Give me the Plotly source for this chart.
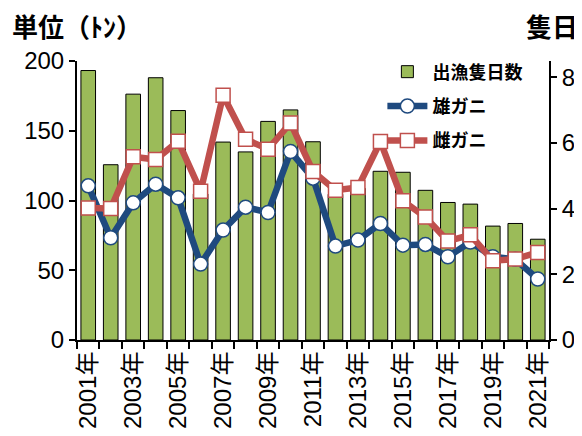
import plotly.graph_objects as go

years = list(range(2001, 2022))
year_labels = [f"{y}年" for y in years]

# 出漁隻日数 (right axis)
days = [8.21, 5.34, 7.49, 7.99, 6.99, 4.45, 6.03, 5.73, 6.66, 7.01, 6.04,
        4.44, 4.62, 5.14, 5.11, 4.56, 4.19, 4.14, 3.47, 3.55, 3.07]
# 雄ガニ (left axis, トン)
male = [110.5, 73.3, 98.3, 111.7, 101.9, 54.4, 78.8, 95.2, 91.4, 135.1, 116.0,
        67.3, 71.6, 83.5, 68.0, 68.5, 59.7, 70.2, 59.7, 57.8, 43.7]
# 雌ガニ (left axis, トン)
female = [94.7, 94.3, 131.3, 129.4, 142.5, 106.7, 175.4, 143.9, 136.8, 155.6, 120.8,
          107.4, 109.3, 142.3, 99.8, 88.1, 70.9, 75.4, 56.8, 58.0, 62.8]

label_years = years[::2]
label_text = [f"{y}年" for y in label_years]
boundaries = [y - 0.5 for y in years] + [years[-1] + 0.5]

TICK_FONT = dict(family="Liberation Sans, Noto Sans CJK JP", size=24, color="black")

fig = go.Figure()
fig.add_trace(go.Bar(
    x=years, y=days, name="出漁隻日数", yaxis="y", legendgroup="a",
    marker=dict(color="#9BBB59", line=dict(color="black", width=1)),
    width=0.65,
))
fig.add_trace(go.Scatter(
    x=years, y=male, name="雄ガニ", yaxis="y2", mode="lines+markers", legendgroup="b",
    line=dict(color="#1F4A7F", width=6.5),
    marker=dict(symbol="circle", size=14, color="white",
                line=dict(color="#1F4A7F", width=1.5)),
))
fig.add_trace(go.Scatter(
    x=years, y=female, name="雌ガニ", yaxis="y2", mode="lines+markers", legendgroup="c",
    line=dict(color="#C0504D", width=6.5),
    marker=dict(symbol="square", size=14, color="white",
                line=dict(color="#C0504D", width=1.5)),
))

fig.update_layout(
    width=574, height=428,
    margin=dict(l=69, r=33, t=53, b=96, autoexpand=False),
    paper_bgcolor="white", plot_bgcolor="white",
    bargap=0.35,
    showlegend=True,
    legend=dict(x=0.647, y=1.027, xanchor="left", yanchor="top",
                bgcolor="rgba(0,0,0,0)",
                font=dict(family="Noto Sans CJK JP", size=18, color="black", weight="bold"),
                tracegroupgap=8, itemwidth=40),
    xaxis=dict(
        range=[2000.5, 2021.5], tickmode="array", tickvals=label_years,
        ticktext=label_text, tickangle=-90, ticks="", showgrid=False,
        showline=True, linecolor="black", linewidth=2, tickfont=TICK_FONT,
        zeroline=False, automargin=False,
        minor=dict(tickmode="array", tickvals=boundaries, ticks="outside",
                   ticklen=7, tickwidth=1.5, tickcolor="black", showgrid=False),
    ),
    yaxis=dict(
        side="right", range=[0, 8.5], tickmode="array", tickvals=[0, 2, 4, 6, 8],
        ticks="outside", ticklen=6, tickwidth=1.5, tickcolor="black",
        showline=True, linecolor="black", linewidth=2, showgrid=False,
        zeroline=False, tickfont=TICK_FONT, automargin=False,
    ),
    yaxis2=dict(
        side="left", overlaying="y", anchor="x", range=[0, 200], dtick=50,
        ticks="outside", ticklen=6, tickwidth=1.5, tickcolor="black",
        showline=True, linecolor="black", linewidth=2, showgrid=False,
        zeroline=False, tickfont=TICK_FONT, automargin=False,
    ),
    annotations=[
        dict(text="単位（ﾄﾝ）", xref="paper", yref="paper", x=-0.142, y=1.129,
             xanchor="left", yanchor="middle", showarrow=False,
             font=dict(family="Noto Sans CJK JP", size=26, color="black", weight="bold")),
        dict(text="隻日", xref="paper", yref="paper", x=1.0657, y=1.129,
             xanchor="right", yanchor="middle", showarrow=False,
             font=dict(family="Noto Sans CJK JP", size=26, color="black", weight="bold")),
    ],
)

fig.write_html("out.html")
